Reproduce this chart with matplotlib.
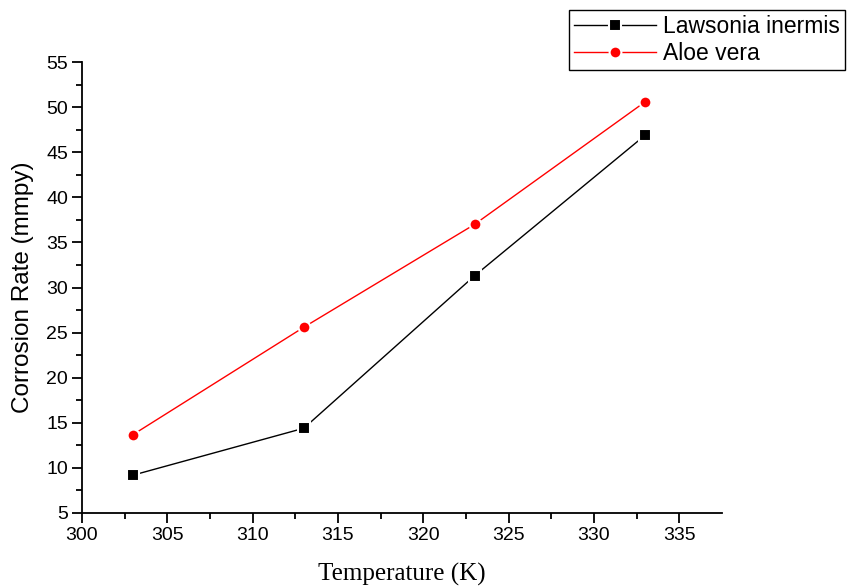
import matplotlib.pyplot as plt
import numpy as np

temperature = [303, 313, 323, 333]
lawsonia = [9.2, 14.4, 31.3, 46.9]
aloe = [13.7, 25.6, 37.0, 50.6]

plt.rcParams['font.family'] = ['Liberation Sans', 'DejaVu Sans']

fig = plt.figure(figsize=(8.52, 5.86), dpi=100)
ax = fig.add_axes([0.0962, 0.1246, 0.7512, 0.7694])

ax.plot(temperature, lawsonia, color='black', lw=1, marker='s', ms=8,
        mec='white', mew=1.5, mfc='black', label='Lawsonia inermis')
ax.plot(temperature, aloe, color='red', lw=1, marker='o', ms=8.5,
        mec='white', mew=1.5, mfc='red', label='Aloe vera')

ax.set_xlim(300, 337.5)
ax.set_ylim(5, 55)
ax.set_xticks(np.arange(300, 340, 5))
ax.set_xticks(np.arange(302.5, 337.5, 5), minor=True)
ax.set_yticks(np.arange(5, 60, 5))
ax.set_yticks(np.arange(7.5, 55, 5), minor=True)
ax.tick_params(which='major', direction='out', length=7, width=1.3, labelsize=14, pad=3)
ax.tick_params(which='minor', direction='out', length=4, width=1.3)

for s in ['top', 'right']:
    ax.spines[s].set_visible(False)
for s in ['left', 'bottom']:
    ax.spines[s].set_linewidth(1.3)

ax.set_xlabel('Temperature (K)', family='Liberation Serif', fontsize=18, labelpad=14)
ax.set_ylabel('Corrosion Rate (mmpy)', fontsize=17.5, labelpad=9)

leg = fig.legend(loc='upper left', bbox_to_anchor=(0.668, 0.983), fontsize=16.5,
                 fancybox=False, edgecolor='black', framealpha=1, borderaxespad=0,
                 handlelength=3.6, handletextpad=0.3, labelspacing=0.2, borderpad=0.2)
leg.get_frame().set_linewidth(1)

fig.savefig('out.png', dpi=100)
